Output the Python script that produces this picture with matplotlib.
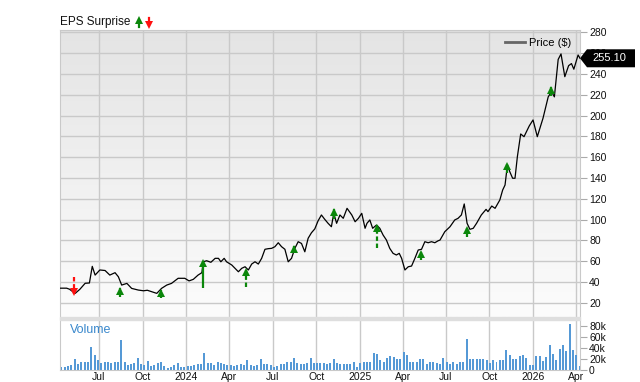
#!/usr/bin/env python
# -*- coding:utf-8 -*-

import numpy as np
import pandas as pd
import matplotlib
matplotlib.use('Agg')
import matplotlib.pyplot as plt
from matplotlib.colors import LinearSegmentedColormap
from matplotlib.lines import Line2D
from matplotlib.patches import Polygon, Rectangle
from matplotlib import transforms

plt.rcParams['font.family'] = ['Liberation Sans', 'DejaVu Sans']

# weekly-ish closing price
price_dates = [
    '2023-04-10', '2023-04-24', '2023-04-30', '2023-05-12', '2023-05-22',
    '2023-06-02', '2023-06-11', '2023-06-17', '2023-06-23', '2023-07-03',
    '2023-07-14', '2023-07-24', '2023-08-04', '2023-08-11', '2023-08-18',
    '2023-08-29', '2023-09-08', '2023-09-22', '2023-10-03', '2023-10-11',
    '2023-10-20', '2023-10-31', '2023-11-10', '2023-11-21', '2023-12-01',
    '2023-12-15', '2023-12-29', '2024-01-07', '2024-01-16', '2024-01-26',
    '2024-02-03', '2024-02-06', '2024-02-13', '2024-02-22', '2024-03-02',
    '2024-03-09', '2024-03-14', '2024-03-21', '2024-03-26', '2024-04-06',
    '2024-04-13', '2024-04-20', '2024-04-27', '2024-05-04', '2024-05-11',
    '2024-05-18', '2024-05-25', '2024-06-01', '2024-06-08', '2024-06-15',
    '2024-06-22', '2024-06-29', '2024-07-06', '2024-07-13', '2024-07-20',
    '2024-07-27', '2024-08-03', '2024-08-10', '2024-08-17', '2024-08-24',
    '2024-08-31', '2024-09-07', '2024-09-14', '2024-09-21', '2024-09-28',
    '2024-10-05', '2024-10-12', '2024-10-19', '2024-10-26', '2024-11-02',
    '2024-11-07', '2024-11-13', '2024-11-20', '2024-11-27', '2024-12-05',
    '2024-12-15', '2024-12-22', '2024-12-29', '2025-01-05', '2025-01-12',
    '2025-01-16', '2025-01-22', '2025-01-28', '2025-02-05', '2025-02-12',
    '2025-02-19', '2025-02-26', '2025-03-05', '2025-03-12', '2025-03-19',
    '2025-03-25', '2025-03-30', '2025-04-06', '2025-04-13', '2025-04-20',
    '2025-04-27', '2025-05-04', '2025-05-11', '2025-05-18', '2025-05-25',
    '2025-06-01', '2025-06-08', '2025-06-15', '2025-06-19', '2025-06-29',
    '2025-07-10', '2025-07-20', '2025-07-27', '2025-08-03', '2025-08-09',
    '2025-08-15', '2025-08-21', '2025-08-28', '2025-09-04', '2025-09-14',
    '2025-09-24', '2025-09-28', '2025-10-06', '2025-10-13', '2025-10-23',
    '2025-10-29', '2025-11-03', '2025-11-08', '2025-11-13', '2025-11-19',
    '2025-11-24', '2025-11-29', '2025-12-06', '2025-12-13', '2025-12-24',
    '2026-01-01', '2026-01-10', '2026-01-22', '2026-02-02', '2026-02-09',
    '2026-02-15', '2026-02-23', '2026-03-01', '2026-03-09', '2026-03-17',
    '2026-03-23', '2026-03-28', '2026-04-06', '2026-04-10',
]
price_values = [
    34, 34, 33, 29, 33, 38.7, 39, 55, 46.6, 51.5,
    51, 46.6, 48.9, 45, 37, 38.6, 33.8, 32.2, 31.5, 32,
    30.6, 29, 33.8, 37, 38.6, 43.5, 43.5, 41, 42.5, 46.6,
    48.9, 59.4, 60.4, 58.9, 62.7, 62.7, 59.4, 62.7, 59.4, 56.3,
    53.1, 49.8, 53.1, 54.6, 51.5, 57.2, 59.4, 57.2, 62.7, 71.4,
    72, 72.3, 73.9, 77.7, 73.9, 71.4, 59.4, 62.7, 72.3, 78.7,
    77, 69, 82, 87.3, 91, 98.8, 104.4, 100.2, 96.4, 93.1,
    106, 96.4, 104.4, 101.2, 110.8, 104.4, 97.9, 101.2, 106, 91.6,
    96.4, 99.6, 91.6, 94.7, 91.6, 85.1, 80.3, 72.3, 67.5, 65.9,
    67.5, 62.7, 51.5, 54.6, 55.3, 62.7, 70.7, 71.4, 78.7, 77.7,
    78.7, 77.7, 79.6, 80.3, 88.3, 93.1, 99.6, 101.2, 104.4, 115,
    96.4, 90.6, 91.6, 96.4, 104.4, 109.8, 107.6, 113, 110.8, 118.8,
    128.4, 133.2, 152.5, 146, 139.7, 139.7, 160.5, 182.3, 179.7, 190,
    195.8, 179.7, 197.4, 218, 223, 218, 254, 259.3, 237.4, 248,
    250, 244.6, 258.3, 255.1,
]
last_price = 255.10

# EPS surprise arrows: date, price at tail, price at head, dashed shaft
eps_dates = ['2023-05-09', '2023-08-15', '2023-11-08', '2024-02-06',
             '2024-05-06', '2024-08-16', '2024-11-07', '2025-02-07',
             '2025-05-10', '2025-08-14', '2025-11-07', '2026-02-07']
eps_tail = [44.7, 25.5, 24.5, 33.9, 35.1, 67.5, 101, 72.3, 61, 83.7, 144.8, 218.4]
eps_head = [28.4, 33.7, 32.2, 60.4, 51.9, 74.5, 109.7, 94.7, 69, 92.3, 153.9, 227.2]
eps_dashed = [True, False, True, False, True, False, False, True, True,
              False, False, False]

# weekly volume in thousands
volume_start = '2023-04-13'
volume_k = [
    5.5, 5.5, 6.7, 8.6, 19, 9.8, 12.9, 14, 12.9, 41,
    27, 17.7, 11.6, 12.9, 12.9, 11.6, 12.9, 14, 54.5, 14.7,
    8.6, 9.8, 11.6, 20.8, 9.8, 8.6, 16, 6.7, 8.6, 11.6,
    13.5, 6.7, 2.4, 5.5, 8.6, 11.6, 5.5, 4.3, 6.7, 6.7,
    8.6, 9.8, 9.8, 30, 11.6, 11.6, 8.6, 13.5, 11.6, 10.4,
    8.6, 8.6, 6.7, 8.6, 9.8, 8, 17, 8, 7.3, 8,
    19.6, 9.8, 9.8, 8.6, 5.5, 7.3, 9.8, 10.4, 12.9, 12.9,
    22, 11.6, 9.8, 9.8, 11.6, 20.8, 11.6, 12.2, 11.6, 11.6,
    10.4, 11.6, 19.6, 11.6, 9.8, 9.8, 10.4, 11, 14.7, 5.5,
    11.6, 14.7, 13.5, 12.9, 30, 28.8, 17, 12.9, 20.8, 25.7,
    22.6, 19, 18.4, 33, 26.3, 12.9, 14.7, 14.7, 19.6, 19,
    9.8, 14.7, 12.9, 11.6, 9.8, 20.8, 13.5, 11, 14, 11,
    14, 14, 56.8, 20.2, 19, 20.2, 19, 19, 17.1, 12.8,
    17.1, 14, 17.1, 18.3, 35.4, 26.3, 20.2, 20.2, 24.4, 26.3,
    22, 7.9, 7.9, 24.4, 24.4, 15.9, 23.2, 44.6, 29.3, 17.1,
    38.5, 44.6, 34.2, 84.3, 35.4, 26.3, 6.1,
]

tick_dates = ['2023-07-01', '2023-10-01', '2024-01-01', '2024-04-01',
              '2024-07-01', '2024-10-01', '2025-01-01', '2025-04-01',
              '2025-07-01', '2025-10-01', '2026-01-01', '2026-04-01']
tick_labels = ['Jul', 'Oct', '2024', 'Apr', 'Jul', 'Oct', '2025', 'Apr',
               'Jul', 'Oct', '2026', 'Apr']
price_ticks = [20, 40, 60, 80, 100, 120, 140, 160, 180, 200, 220, 240, 260, 280]
volume_ticks = [0, 20, 40, 60, 80]
volume_labels = ['0', '20k', '40k', '60k', '80k']

W, H = 640, 382
GRID = '#c9c9c9'
GREEN = '#0b870b'
RED = '#ff1010'
BLUE = '#5599d6'


def box(l, t, r, b):
    """pixel box (from top-left) -> figure fraction rect"""
    return [l / W, 1 - b / H, (r - l) / W, (b - t) / H]


def main():
    fig = plt.figure(figsize=(W / 100, H / 100), dpi=100)
    ax = fig.add_axes(box(60, 30, 580, 317.5))
    axv = fig.add_axes(box(60, 320, 580, 369.5), sharex=ax)

    xlim = (pd.Timestamp('2023-04-10'), pd.Timestamp('2026-04-10'))

    # grey gradient behind the price panel
    cmap = LinearSegmentedColormap.from_list('bg', ['#fcfcfc', '#e4e4e4'])
    grad = np.linspace(0, 1, 256).reshape(-1, 1)
    ax.imshow(grad, extent=[0, 1, 0, 1], transform=ax.transAxes, cmap=cmap,
              aspect='auto', origin='lower', zorder=0)

    # price line
    ax.plot(pd.to_datetime(price_dates), price_values, color='k', lw=0.9,
            zorder=3)

    # EPS surprise arrows
    head_shift = transforms.offset_copy(ax.transData, fig=fig, y=-2.5,
                                        units='dots')
    tail_shift = transforms.offset_copy(ax.transData, fig=fig, y=2.5,
                                        units='dots')
    for d, t, h, dashed in zip(pd.to_datetime(eps_dates), eps_tail,
                               eps_head, eps_dashed):
        up = h > t
        c = GREEN if up else RED
        ls = (0, (2.0, 1.2)) if dashed else '-'
        ax.plot([d, d], [t, h], color=c, lw=1.6, ls=ls, zorder=4,
                solid_capstyle='butt', dash_capstyle='butt')
        ax.plot([d], [h], marker='^' if up else 'v', color=c, ms=5.6,
                mew=0, zorder=5,
                transform=head_shift if up else tail_shift)

    ax.set_xlim(*xlim)
    ax.set_ylim(5.8, 282.3)
    ax.set_yticks(price_ticks)
    ax.yaxis.tick_right()
    ax.set_xticks(pd.to_datetime(tick_dates))
    ax.tick_params(axis='x', length=0, labelbottom=False)
    ax.tick_params(axis='y', length=5, color='#aaaaaa', labelsize=7.5,
                   pad=1.5, labelcolor='#111111')
    ax.set_axisbelow(True)
    ax.grid(True, color=GRID, lw=1)
    for s in ax.spines.values():
        s.set_color(GRID)
    ax.spines['bottom'].set_visible(False)

    # legend
    proxy = Line2D([], [], color='#666666', lw=2)
    ax.legend([proxy], ['Price ($)'], loc='upper right',
              bbox_to_anchor=(0.999, 1.0), frameon=False, fontsize=8,
              handlelength=1.8, handletextpad=0.4, borderaxespad=0.3)

    # last price tag
    fig.canvas.draw()
    anchor = transforms.blended_transform_factory(
        ax.transAxes, ax.transData).transform((1.0, last_price))
    tag = Polygon([(0, 0), (7, 9), (55, 9), (55, -9), (7, -9)], closed=True,
                  fc='black', ec='none',
                  transform=transforms.Affine2D().translate(*anchor),
                  clip_on=False, zorder=6)
    fig.add_artist(tag)
    fig.text((anchor[0] + 29) / W, anchor[1] / H, '%.2f' % last_price,
             color='white', fontsize=8, ha='center', va='center', zorder=7)

    # volume panel
    vol_dates = pd.date_range(volume_start, periods=len(volume_k), freq='7D')
    axv.bar(vol_dates, volume_k, width=4.2, color=BLUE, zorder=2)
    axv.set_xlim(*xlim)
    axv.set_ylim(0, 91)
    axv.set_yticks(volume_ticks)
    axv.set_yticklabels(volume_labels)
    axv.yaxis.tick_right()
    axv.set_xticks(pd.to_datetime(tick_dates))
    axv.set_xticklabels(tick_labels)
    axv.tick_params(axis='x', length=0, labelsize=7.5, pad=1.5,
                    labelcolor='#111111')
    axv.tick_params(axis='y', length=5, color='#aaaaaa', labelsize=7.5,
                    pad=1.5, labelcolor='#111111')
    axv.set_axisbelow(True)
    axv.grid(True, axis='x', color=GRID, lw=1)
    for s in axv.spines.values():
        s.set_color(GRID)
    axv.spines['top'].set_visible(False)
    axv.text(0.019, 0.8, 'Volume', transform=axv.transAxes, color='#3a88cc',
             fontsize=9, va='center')

    # separator band between the panels
    fig.add_artist(Rectangle((60 / W, 1 - 320 / H), 520 / W, 2.6 / H,
                             transform=fig.transFigure, color='#dedede',
                             zorder=5))

    # heading with the arrow legend
    fig.text(60 / W, 1 - 22 / H, 'EPS Surprise', fontsize=8.5, va='center',
             color='#111111')
    fig.add_artist(Line2D([138.5 / W, 138.5 / W], [1 - 27 / H, 1 - 21 / H],
                          color=GREEN, lw=1.6, transform=fig.transFigure))
    fig.add_artist(Line2D([138.5 / W], [1 - 20 / H], marker='^', color=GREEN,
                          ms=5.4, mew=0, transform=fig.transFigure))
    fig.add_artist(Line2D([149 / W, 149 / W], [1 - 18 / H, 1 - 24 / H],
                          color=RED, lw=1.6, transform=fig.transFigure))
    fig.add_artist(Line2D([149 / W], [1 - 25 / H], marker='v', color=RED,
                          ms=5.4, mew=0, transform=fig.transFigure))

    fig.savefig('out.png', dpi=100)


if __name__ == '__main__':
    main()
